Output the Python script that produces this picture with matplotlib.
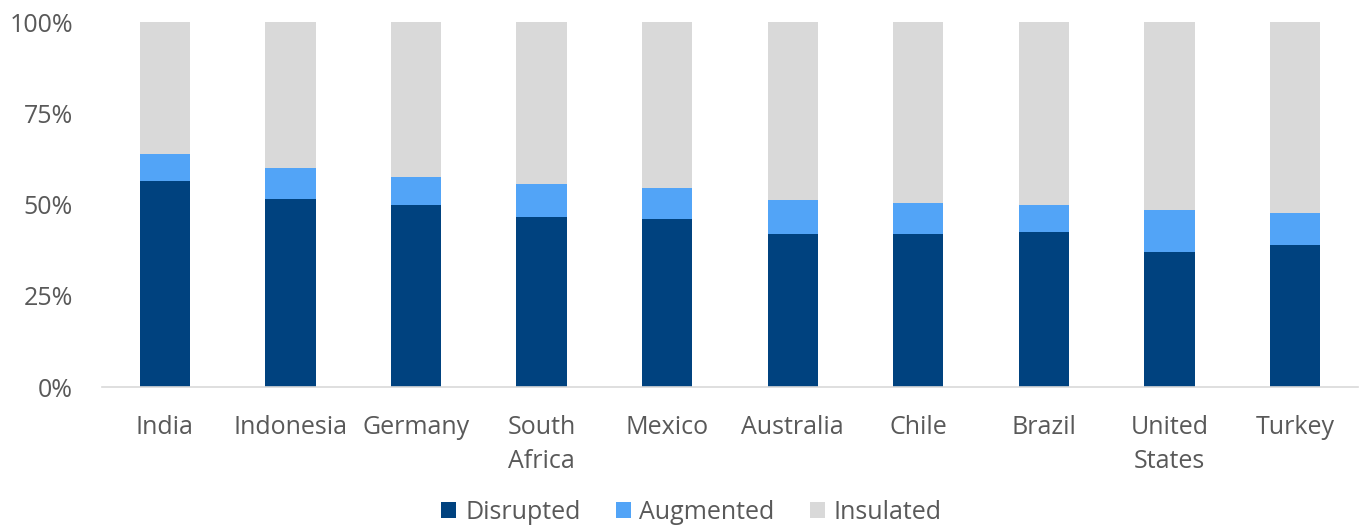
import matplotlib.pyplot as plt
import numpy as np

countries = ["India", "Indonesia", "Germany", "South\nAfrica", "Mexico",
             "Australia", "Chile", "Brazil", "United\nStates", "Turkey"]
disrupted = [56.5, 51.6, 49.9, 46.5, 46.1, 41.9, 41.8, 42.4, 37.1, 39.0]
augmented = [7.3, 8.3, 7.6, 9.2, 8.3, 9.3, 8.7, 7.5, 11.3, 8.6]
insulated = [100 - d - a for d, a in zip(disrupted, augmented)]

c_dis = "#00427F"
c_aug = "#52A4F7"
c_ins = "#D9D9D9"
txt = "#595959"
fs = 18

plt.rcParams['font.family'] = ['Open Sans', 'DejaVu Sans']

fig = plt.figure(figsize=(13.61, 5.29), dpi=100)
ax = fig.add_axes([0.075, 0.2684, 0.9227, 0.69])

x = np.arange(len(countries))
w = 0.4
dis = np.array(disrupted)
aug = np.array(augmented)
ins = np.array(insulated)
ax.bar(x, dis, w, color=c_dis, label="Disrupted", zorder=2)
ax.bar(x, aug, w, bottom=dis, color=c_aug, label="Augmented", zorder=2)
ax.bar(x, ins, w, bottom=dis + aug, color=c_ins, label="Insulated", zorder=2)

ax.set_xlim(-0.5, len(countries) - 0.5)
ax.set_ylim(0, 100)
ax.set_yticks([0, 25, 50, 75, 100])
ax.set_yticklabels(["0%", "25%", "50%", "75%", "100%"], fontsize=fs, color=txt)
ax.set_xticks(x)
ax.set_xticklabels(countries, fontsize=fs, color=txt, linespacing=1.5, va="top")
ax.tick_params(axis="both", length=0)
ax.tick_params(axis="x", pad=20)
ax.tick_params(axis="y", pad=21)

for s in ["top", "right", "left"]:
    ax.spines[s].set_visible(False)
ax.spines["bottom"].set_color("#D9D9D9")
ax.spines["bottom"].set_linewidth(1.2)

fig.legend(loc="center", bbox_to_anchor=(0.508, 0.032), ncol=3, frameon=False,
           fontsize=fs, handlelength=0.6, handleheight=0.6,
           handletextpad=0.35, columnspacing=1.4, labelcolor=txt)

fig.savefig("out.png", dpi=100)
